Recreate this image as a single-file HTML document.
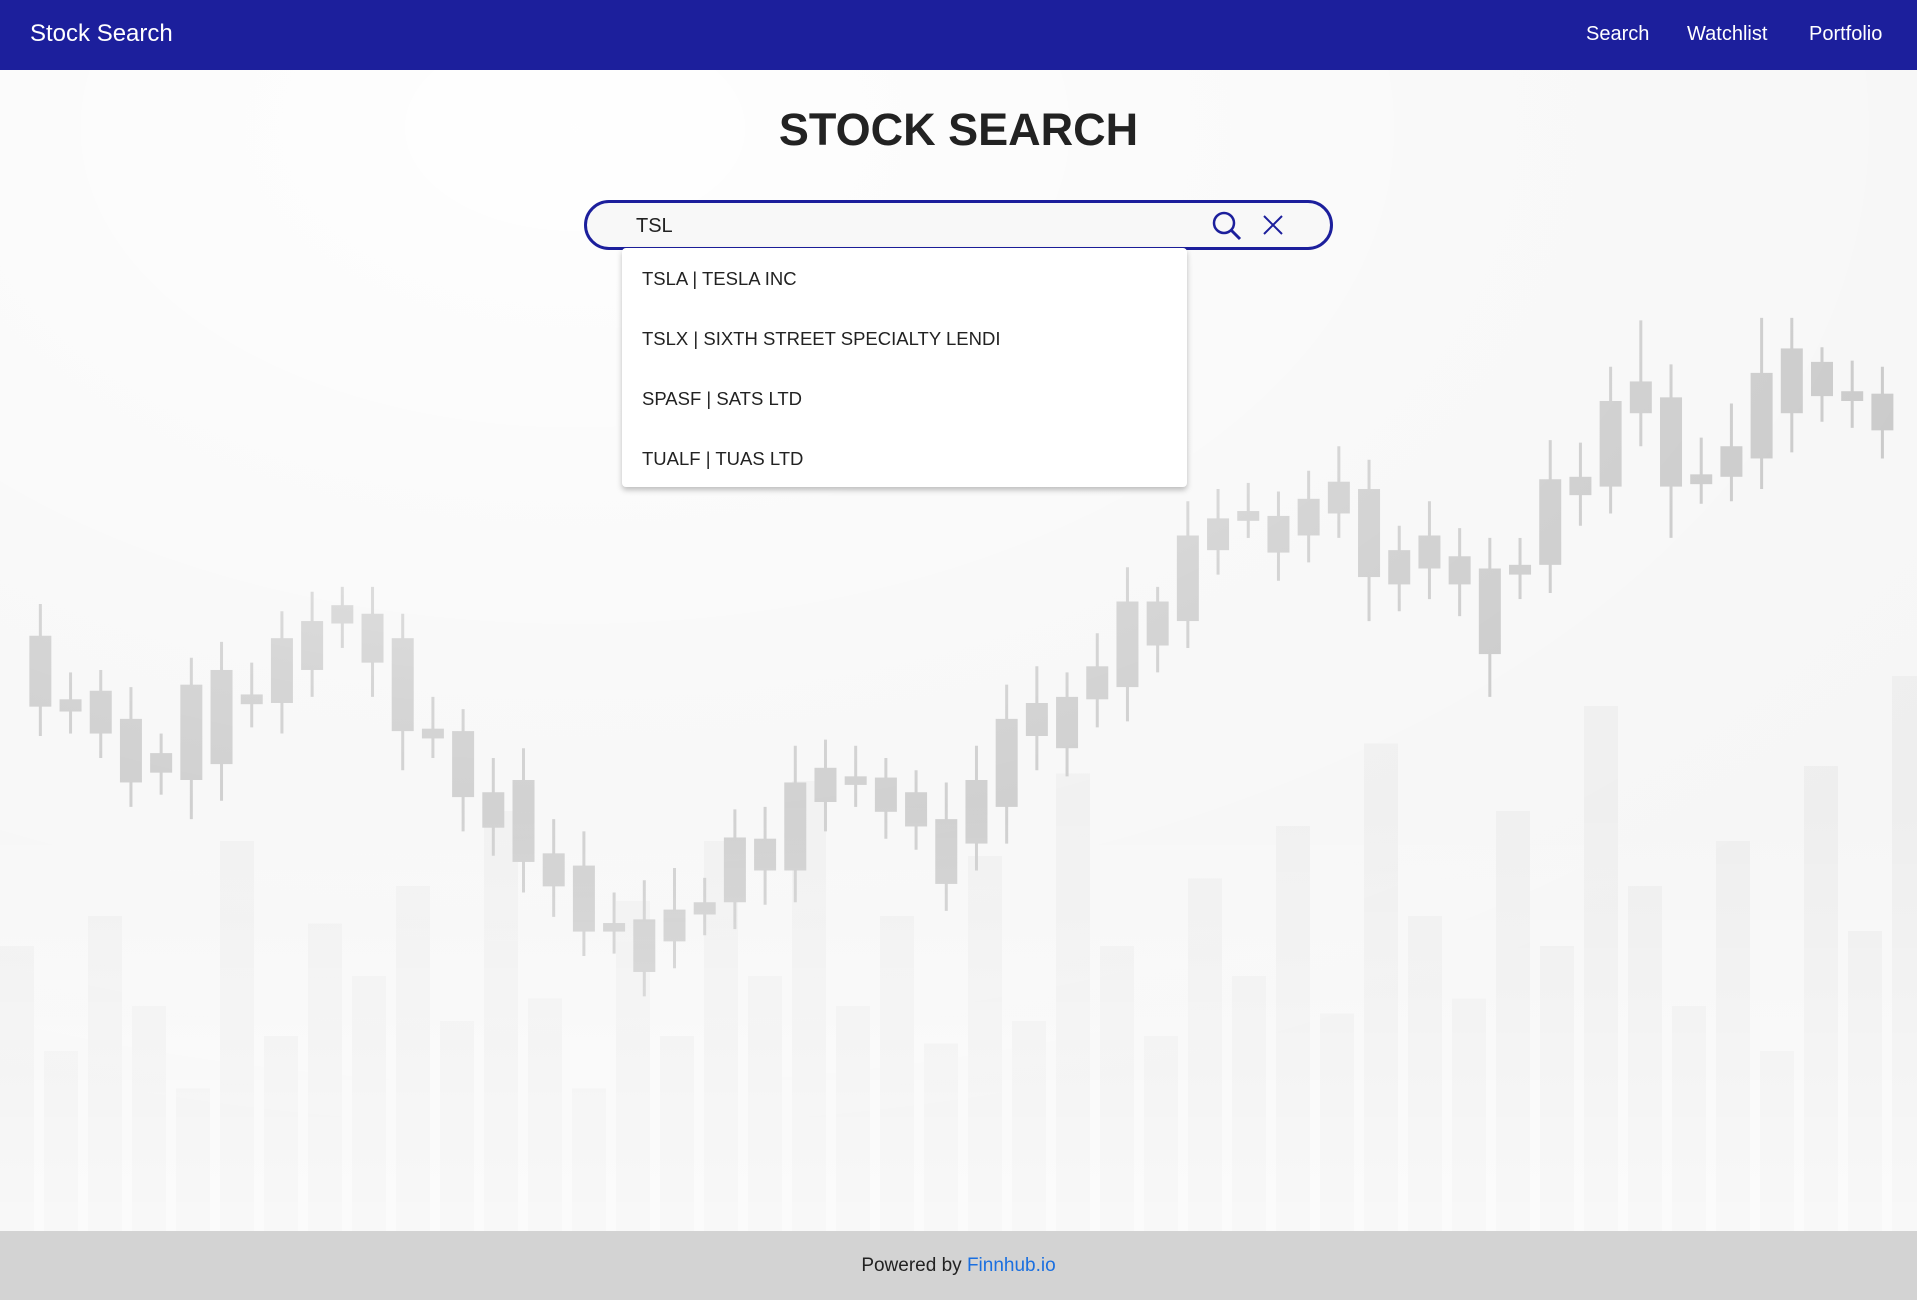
<!DOCTYPE html>
<html><head><meta charset="utf-8">
<style>
*{box-sizing:border-box;margin:0;padding:0}
body{width:1917px;height:1300px;overflow:hidden;font-family:"Liberation Sans",sans-serif;background:#f6f6f6;position:relative}
#bg{position:absolute;left:0;top:70px;width:1917px;height:1161px}
nav{position:absolute;left:0;top:0;width:1917px;height:70px;background:#1c1f9c;color:#fff}
.brand{position:absolute;left:30px;top:20px;font-size:24px}
.nl{position:absolute;top:23px;font-size:20px}
h1{position:absolute;left:0;width:1917px;top:104px;text-align:center;font-size:45px;font-weight:bold;color:#222}
.search{position:absolute;left:584px;top:200px;width:749px;height:50px;border:3px solid #1c1f9c;border-radius:25px;background:#f8f8f8}
.search .val{position:absolute;left:49px;top:12px;font-size:20px;color:#222}
.dd{position:absolute;left:622px;top:248px;width:565px;height:239px;background:#fff;border-radius:4px;box-shadow:0 3px 6px rgba(0,0,0,.25)}
.dd div{position:absolute;left:20px;font-size:18.5px;color:#222}
footer{position:absolute;left:0;top:1231px;width:1917px;height:69px;background:#d3d3d3;text-align:center;font-size:19px;color:#222;padding-top:24px}
footer a{color:#1a6fe0;text-decoration:none}
</style></head><body>
<svg id="bg" viewBox="0 70 1917 1161">
<defs><radialGradient id="fade" cx="0.3" cy="0.05" r="0.9"><stop offset="0" stop-color="#fff" stop-opacity="0.95"/><stop offset="0.55" stop-color="#fff" stop-opacity="0.3"/><stop offset="1" stop-color="#fff" stop-opacity="0"/></radialGradient>
<linearGradient id="bfade" x1="0" y1="0" x2="0" y2="1"><stop offset="0" stop-color="#fff" stop-opacity="0"/><stop offset="1" stop-color="#fff" stop-opacity="0.6"/></linearGradient></defs>
<g id="vols"></g><g id="candles"></g>
<rect x="0" y="70" width="1917" height="1161" fill="url(#fade)"/>
<rect x="0" y="800" width="1917" height="431" fill="url(#bfade)"/>
</svg>
<nav>
<div class="brand">Stock Search</div>
<div class="nl" style="left:1586px">Search</div>
<div class="nl" style="left:1687px">Watchlist</div>
<div class="nl" style="left:1809px">Portfolio</div>
</nav>
<h1>STOCK SEARCH</h1>
<div class="search">
<div class="val">TSL</div>
<svg style="position:absolute;left:624px;top:7px" width="32" height="32"><circle cx="13" cy="13" r="10" fill="none" stroke="#1c1f9c" stroke-width="2.5"/><line x1="20" y1="20" x2="29" y2="29" stroke="#1c1f9c" stroke-width="3"/></svg>
<svg style="position:absolute;left:673px;top:9px" width="26" height="26"><path d="M4 4L22 22M22 4L4 22" stroke="#1c1f9c" stroke-width="2"/></svg>
</div>
<div class="dd">
<div style="top:20px">TSLA | TESLA INC</div>
<div style="top:80px">TSLX | SIXTH STREET SPECIALTY LENDI</div>
<div style="top:140px">SPASF | SATS LTD</div>
<div style="top:200px">TUALF | TUAS LTD</div>
</div>
<footer>Powered by <a>Finnhub.io</a></footer>
<script>
const opens=[580,528,535,512,484,540,552,532,578,592,605,598,578,504,502,452,462,402,392,345,348,356,362,415,414,460,472,465,464,452,430,462,512,525,530,555,608,608,662,676,682,678,692,706,700,650,662,645,635,638,708,710,772,788,775,712,735,795,815,804,780,778];
const closes=[522,518,500,460,468,462,475,524,525,552,590,558,502,496,448,423,395,375,338,338,305,330,352,362,388,388,444,458,436,424,377,410,440,498,488,528,538,572,592,650,674,648,662,680,628,622,635,622,565,630,638,695,702,762,702,704,710,725,762,776,772,748];
const highs=[606,550,552,538,500,562,575,558,600,616,620,620,598,530,520,480,488,430,420,370,380,390,382,438,440,490,495,490,480,470,460,490,540,555,550,582,636,620,690,700,705,698,715,735,724,670,690,668,660,660,740,738,800,838,802,742,770,840,840,816,805,800];
const lows=[498,500,480,440,450,430,445,505,500,530,570,530,470,480,420,400,370,350,318,320,285,308,335,340,360,362,420,440,414,405,355,388,410,470,465,505,510,550,570,630,660,625,640,660,592,600,610,596,530,610,615,670,680,735,660,688,690,700,730,755,750,725];
const vols=[380,240,420,300,190,520,260,410,340,460,280,560,310,190,440,260,520,340,600,300,420,250,500,280,610,380,260,470,340,540,290,650,420,310,560,380,700,460,300,520,240,620,400,740];
const k=1917/1568, pMax=1100;
const xS=i=>(33+i*24.7)*k;
const yS=p=>(pMax-p)*k;
const NS='http://www.w3.org/2000/svg';
const cg=document.getElementById('candles'), vg=document.getElementById('vols');
vols.forEach((v,i)=>{const r=document.createElementNS(NS,'rect');


const x=i*44; r.setAttribute('x',x);r.setAttribute('width',34);r.setAttribute('y',1231-v*0.75);r.setAttribute('height',v*0.75);r.setAttribute('fill','#eeeeee');vg.appendChild(r);});
opens.forEach((o,i)=>{const c=closes[i];const x=xS(i);
const w=document.createElementNS(NS,'line');


w.setAttribute('x1',x);w.setAttribute('x2',x);w.setAttribute('y1',yS(highs[i]));w.setAttribute('y2',yS(lows[i]));w.setAttribute('stroke','#c4c4c4');w.setAttribute('stroke-width',3);cg.appendChild(w);
const b=document.createElementNS(NS,'rect');


const t=Math.max(o,c),bt=Math.min(o,c);
b.setAttribute('x',x-11);b.setAttribute('width',22);b.setAttribute('y',yS(t));b.setAttribute('height',Math.max(6,yS(bt)-yS(t)));b.setAttribute('fill','#c4c4c4');cg.appendChild(b);});
</script>
</body></html>
